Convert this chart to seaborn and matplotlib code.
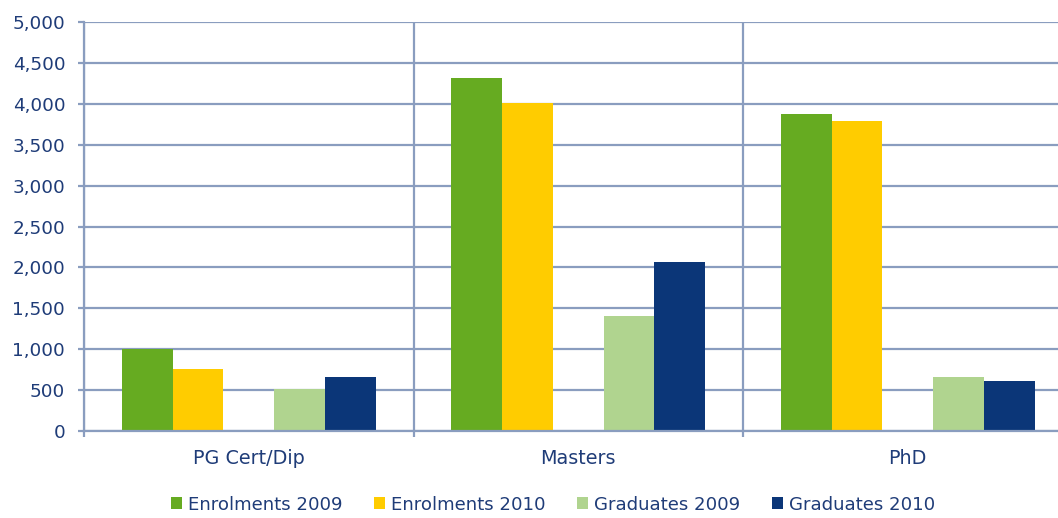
import numpy as np
import pandas as pd
import matplotlib
matplotlib.use("Agg")
import matplotlib.pyplot as plt
import seaborn as sns
from matplotlib.patches import Patch
from matplotlib.ticker import FuncFormatter

categories = ["PG Cert/Dip", "Masters", "PhD"]
series_names = ["Enrolments 2009", "Enrolments 2010", "Graduates 2009", "Graduates 2010"]
enrolments_2009 = [1000, 4320, 3875]
enrolments_2010 = [755, 4010, 3785]
graduates_2009 = [510, 1400, 655]
graduates_2010 = [655, 2060, 615]
series_colors = ["#66AB21", "#FFCC00", "#B0D48F", "#0B3678"]

text_color = "#1F3C78"
grid_color = "#8A9DBF"
spacer = " "

values = [enrolments_2009, enrolments_2010, graduates_2009, graduates_2010]
rows = []
for name, vals in zip(series_names, values):
    for cat, v in zip(categories, vals):
        rows.append({"category": cat, "series": name, "value": v})
df = pd.DataFrame(rows)

hue_order = series_names[:2] + [spacer] + series_names[2:]
palette = dict(zip(series_names, series_colors))
palette[spacer] = "#FFFFFF"

sns.set_theme(style="white")
plt.rcParams["font.family"] = ["DejaVu Sans"]

fig = plt.figure(figsize=(10.58, 5.18), dpi=100)
ax = fig.add_axes([84 / 1058, 87 / 518, (1072.5 - 84) / 1058, 409 / 518])

sns.barplot(data=df, x="category", y="value", hue="series", hue_order=hue_order,
            order=categories, palette=palette, width=0.77, gap=0, linewidth=0,
            saturation=1, legend=False, ax=ax, errorbar=None)

ax.set_ylim(0, 5000)
ax.set_xlim(-0.5, len(categories) - 0.5)
ax.set_yticks(np.arange(0, 5001, 500))
ax.yaxis.set_major_formatter(FuncFormatter(lambda v, p: f"{int(v):,}"))
ax.set_xticks(np.arange(len(categories)))
ax.set_xticks(np.arange(len(categories) + 1) - 0.5, minor=True)
ax.set_xlabel("")
ax.set_ylabel("")

ax.set_axisbelow(True)
ax.grid(axis="y", which="major", color=grid_color, linewidth=1.6)
ax.grid(axis="x", which="minor", color=grid_color, linewidth=1.6)
ax.grid(axis="x", which="major", visible=False)

for s in ["top", "right"]:
    ax.spines[s].set_visible(False)
for s in ["left", "bottom"]:
    ax.spines[s].set_color(grid_color)
    ax.spines[s].set_linewidth(1.6)

ax.tick_params(axis="y", which="major", length=4.5, width=1.6, color=grid_color,
               direction="out", left=True, pad=9, labelsize=13.2, labelcolor=text_color)
ax.tick_params(axis="x", which="major", length=0, pad=13, labelsize=13.8, labelcolor=text_color)
ax.tick_params(axis="x", which="minor", length=4.5, width=1.6, color=grid_color,
               direction="out", bottom=True)

handles = [Patch(facecolor=c, edgecolor="none") for c in series_colors]
fig.legend(handles, series_names, loc="center", bbox_to_anchor=(553 / 1058, 13.5 / 518),
           ncol=4, frameon=False, fontsize=13.1, labelcolor=text_color,
           handlelength=0.6, handleheight=0.6, handletextpad=0.33,
           columnspacing=1.75, borderaxespad=0, borderpad=0)

fig.savefig("out.png", dpi=100)
